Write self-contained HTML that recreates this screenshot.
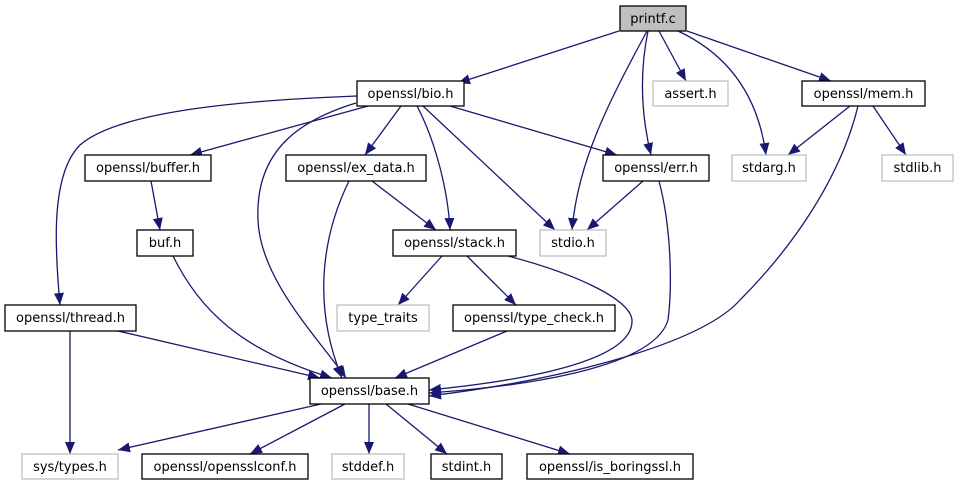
<!DOCTYPE html>
<html><head><meta charset="utf-8"><style>
body{margin:0;background:#fff}
svg text{font-family:"DejaVu Sans","Liberation Sans",sans-serif;font-size:13px;text-anchor:middle;fill:#000}
</style></head><body>
<svg width="958" height="485" viewBox="0 0 958 485" xmlns="http://www.w3.org/2000/svg">
<defs><marker id="a" markerWidth="13" markerHeight="11" refX="12" refY="5.5" orient="auto" markerUnits="userSpaceOnUse"><path d="M0,0.5 L12,5.5 L0,10.5 z" fill="#191970"/></marker></defs>
<g fill="none" stroke="#191970" stroke-width="1.3" marker-end="url(#a)">
<path d="M619,31 L458,83"/>
<path d="M647,31 C610,100 578,160 572,230"/>
<path d="M648,31 C640,70 640,110 651,155"/>
<path d="M659,31 L686,81"/>
<path d="M678,31 C740,60 760,110 766,155"/>
<path d="M687,31 L831,81"/>
<path d="M357,96 C250,100 120,110 80,145 C50,175 55,250 60,305"/>
<path d="M368,106 L190,155"/>
<path d="M356,103 C300,120 255,150 258,220 C260,280 320,340 346,378"/>
<path d="M401,106 L365,155"/>
<path d="M417,106 C435,140 448,190 450,230"/>
<path d="M423,106 L555,230"/>
<path d="M450,106 L617,155"/>
<path d="M151,181 L160,230"/>
<path d="M349,181 C325,230 310,300 342,378"/>
<path d="M372,181 L436,230"/>
<path d="M173,256 C200,310 240,350 332,378"/>
<path d="M442,256 L398,305"/>
<path d="M467,256 L516,305"/>
<path d="M508,256 C580,275 630,300 632,320 C634,360 530,380 429,390"/>
<path d="M659,181 C672,230 672,290 668,320 C655,365 540,385 429,393"/>
<path d="M858,106 C840,180 790,250 740,300 C700,345 560,380 429,396"/>
<path d="M850,106 L788,155"/>
<path d="M873,106 L906,155"/>
<path d="M643,181 L587,230"/>
<path d="M70,331 L70,454"/>
<path d="M118,331 L320,378"/>
<path d="M507,331 L395,378"/>
<path d="M321,404 L118,450"/>
<path d="M345,404 L250,454"/>
<path d="M369,404 L369,454"/>
<path d="M386,404 L447,454"/>
<path d="M408,404 L570,454"/>
</g>
<g stroke-width="1.3">
<rect x="620" y="6" width="66" height="25" fill="#bfbfbf" stroke="#000"/><text x="653" y="23">printf.c</text>
<rect x="357" y="81" width="107" height="25" fill="#fff" stroke="#000"/><text x="410.5" y="98">openssl/bio.h</text>
<rect x="653" y="81" width="75" height="25" fill="#fff" stroke="#bfbfbf"/><text x="690.5" y="98">assert.h</text>
<rect x="802" y="81" width="123" height="25" fill="#fff" stroke="#000"/><text x="863.5" y="98">openssl/mem.h</text>
<rect x="85" y="155" width="126" height="26" fill="#fff" stroke="#000"/><text x="148" y="172">openssl/buffer.h</text>
<rect x="286" y="155" width="140" height="26" fill="#fff" stroke="#000"/><text x="356" y="172">openssl/ex_data.h</text>
<rect x="603" y="155" width="106" height="26" fill="#fff" stroke="#000"/><text x="656" y="172">openssl/err.h</text>
<rect x="732" y="155" width="74" height="26" fill="#fff" stroke="#bfbfbf"/><text x="769" y="172">stdarg.h</text>
<rect x="882" y="155" width="71" height="26" fill="#fff" stroke="#bfbfbf"/><text x="917.5" y="172">stdlib.h</text>
<rect x="137" y="230" width="56" height="26" fill="#fff" stroke="#000"/><text x="165" y="247">buf.h</text>
<rect x="393" y="230" width="123" height="26" fill="#fff" stroke="#000"/><text x="454.5" y="247">openssl/stack.h</text>
<rect x="540" y="230" width="66" height="26" fill="#fff" stroke="#bfbfbf"/><text x="573" y="247">stdio.h</text>
<rect x="5" y="305" width="131" height="26" fill="#fff" stroke="#000"/><text x="70.5" y="322">openssl/thread.h</text>
<rect x="337" y="305" width="92" height="26" fill="#fff" stroke="#bfbfbf"/><text x="383" y="322">type_traits</text>
<rect x="453" y="305" width="162" height="26" fill="#fff" stroke="#000"/><text x="534" y="322">openssl/type_check.h</text>
<rect x="310" y="378" width="119" height="26" fill="#fff" stroke="#000"/><text x="369.5" y="395">openssl/base.h</text>
<rect x="22" y="454" width="96" height="25" fill="#fff" stroke="#bfbfbf"/><text x="70" y="471">sys/types.h</text>
<rect x="142" y="454" width="166" height="25" fill="#fff" stroke="#000"/><text x="225" y="471">openssl/opensslconf.h</text>
<rect x="332" y="454" width="72" height="25" fill="#fff" stroke="#bfbfbf"/><text x="368" y="471">stddef.h</text>
<rect x="431" y="454" width="71" height="25" fill="#fff" stroke="#000"/><text x="466.5" y="471">stdint.h</text>
<rect x="527" y="454" width="166" height="25" fill="#fff" stroke="#000"/><text x="610" y="471">openssl/is_boringssl.h</text>
</g>
</svg>
</body></html>
